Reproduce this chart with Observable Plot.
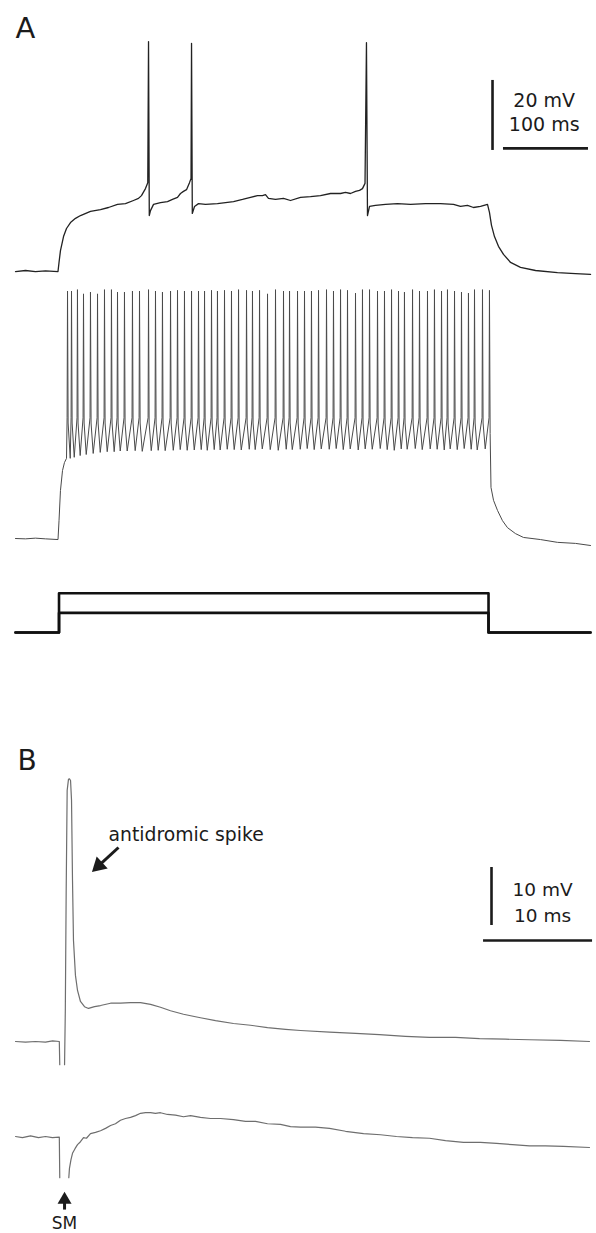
<!DOCTYPE html>
<html><head><meta charset="utf-8">
<script src="https://cdn.jsdelivr.net/npm/d3@7"></script>
<script src="https://cdn.jsdelivr.net/npm/@observablehq/plot@0.6"></script>
<style>
html,body{margin:0;padding:0;background:#fff;}
#fig{width:596px;}
#fig svg{display:block;}
</style></head><body><div id="fig"></div>
<script>
// ================= DATA =================
// Panel A, trace 1: weak depolarising step, [time ms, membrane potential mV]
const a1Trace = [[0,-70.3],[11.8,-70.0],[23.5,-70.3],[35.3,-70.1],[50.0,-70.3],[51.2,-67.7],[52.9,-64.3],[56.5,-60.3],[60.0,-58.0],[64.7,-56.3],[70.6,-55.1],[76.5,-54.3],[88.2,-53.1],[100.0,-52.6],[109.4,-52.0],[120.0,-51.1],[129.4,-50.9],[138.8,-50.0],[144.7,-49.4],[148.2,-48.6],[152.9,-46.6],[155.6,-44.9],[156.5,-4.6],[157.4,-54.3],[158.8,-52.9],[162.4,-51.1],[170.6,-50.6],[178.8,-50.3],[184.7,-49.7],[190.6,-49.1],[194.1,-48.0],[197.6,-47.4],[201.2,-46.9],[204.7,-44.9],[206.5,-43.7],[207.1,-5.1],[208.0,-53.7],[210.6,-51.7],[215.3,-50.9],[223.5,-51.1],[237.6,-50.9],[247.1,-50.6],[256.5,-50.3],[267.1,-49.7],[276.5,-49.1],[284.7,-48.6],[290.6,-48.6],[294.1,-48.3],[297.6,-49.4],[305.9,-49.7],[315.3,-49.4],[323.5,-50.0],[335.3,-49.1],[347.1,-48.9],[358.8,-48.6],[370.6,-48.0],[382.4,-48.0],[388.2,-47.7],[394.1,-48.0],[400.0,-47.4],[404.7,-47.1],[408.2,-46.6],[411.2,-45.1],[412.9,-4.9],[414.1,-54.3],[416.5,-51.7],[423.5,-51.4],[435.3,-51.1],[449.4,-50.9],[464.7,-51.1],[482.4,-50.9],[500.0,-50.9],[515.3,-51.1],[523.5,-51.7],[531.8,-51.4],[538.8,-52.0],[547.1,-51.7],[555.3,-51.1],[557.6,-53.4],[560.0,-57.1],[563.5,-60.3],[568.2,-63.1],[574.1,-65.4],[582.4,-67.7],[594.1,-69.1],[611.8,-70.0],[637.6,-70.6],[658.8,-70.9],[676.5,-71.1]];

// Panel A, trace 2: strong step, repetitive firing
const a2Onset = [[0,-70.0],[11.8,-70.1],[23.5,-69.9],[35.3,-70.1],[50.0,-70.3],[51.2,-64.9],[52.9,-56.3],[55.3,-50.6],[57.6,-48.3],[60.0,-47.1]];
const a2SpikeTimes = [61.2,65.9,72.9,80.0,88.2,96.5,104.7,112.9,120.0,128.2,137.6,145.9,156.5,164.7,172.9,182.4,190.6,198.8,207.1,215.3,222.4,230.6,237.6,245.9,254.1,262.4,271.8,278.8,287.1,296.5,305.9,315.3,322.4,331.8,340.0,348.2,356.5,365.9,374.1,382.4,390.6,400.0,408.2,416.5,425.9,434.1,442.4,450.6,457.6,467.1,475.3,484.7,492.9,501.2,508.2,516.5,524.7,532.9,540.0,549.4,557.6];
const a2SpikePeaks = [0.7,0.7,1.1,-0.1,0.4,-0.1,1.1,1.1,0.4,0.4,0.7,0.7,1.1,0.7,0.4,0.7,0.9,0.7,0.7,0.7,0.7,0.9,0.7,0.9,0.7,1.1,0.9,0.7,0.9,-0.1,1.1,0.7,0.7,0.7,0.7,0.7,0.9,1.1,0.7,1.1,0.9,0.1,1.1,1.1,0.7,0.7,1.1,0.7,0.4,1.1,0.7,0.7,1.1,0.7,1.1,0.7,0.4,0.1,1.1,1.1,0.9];
const a2SpikeTroughs = [-47.1,-46.8,-46.3,-46.0,-45.7,-45.4,-45.2,-45.2,-45.0,-45.0,-44.9,-45.1,-44.9,-44.8,-44.9,-44.8,-44.6,-44.8,-44.7,-44.6,-44.8,-44.6,-44.7,-44.5,-44.6,-44.7,-44.5,-44.6,-44.4,-44.6,-44.8,-44.5,-44.6,-44.5,-44.3,-44.6,-44.4,-44.5,-44.3,-44.6,-44.4,-44.7,-44.4,-44.5,-44.3,-44.6,-44.8,-44.4,-44.5,-44.3,-44.6,-44.4,-44.5,-44.7,-44.4,-44.6,-44.3,-44.5,-44.7,-44.4,-44.5];
const a2SpikeThreshold = -35.5;
const a2Offset = [[558.4,-40.0],[559.4,-55.4],[562.4,-59.1],[567.1,-62.0],[572.9,-64.9],[578.8,-66.9],[588.2,-68.6],[597.6,-69.7],[617.6,-70.3],[637.6,-71.1],[658.8,-71.4],[676.5,-72.0]];

// Panel A, trace 3: injected current steps (nA)
const stepTimes = [0, 51.2, 556.5, 676.5];   // start, on, off, end (ms)
const stepAmplitudes = [0.2, 0.4];           // nA

// Panel B, trace 1: antidromic spike, [time ms, mV]  (null = off-scale gap)
const b1Trace = [[0,-70.0],[0.92,-70.1],[1.83,-70.0],[2.75,-70.1],[3.4,-69.9],[4.02,-70.0],[4.06,-74.0],[4.3,null],[4.50,-74.0],[4.57,-64.7],[4.65,-44.0],[4.74,-26.7],[4.86,-24.8],[4.95,-24.7],[5.05,-25.0],[5.14,-28.4],[5.23,-42.2],[5.32,-52.6],[5.50,-58.6],[5.69,-61.2],[5.96,-63.1],[6.33,-64.0],[6.70,-64.3],[7.25,-64.0],[7.80,-63.8],[8.72,-63.4],[9.63,-63.4],[10.55,-63.3],[11.47,-63.3],[12.39,-63.6],[13.30,-64.1],[14.22,-64.7],[15.41,-65.3],[16.97,-65.9],[18.35,-66.4],[20.0,-66.9],[21.56,-67.2],[23.12,-67.6],[24.77,-67.9],[26.15,-68.1],[28.81,-68.4],[31.19,-68.6],[33.39,-68.8],[35.78,-69.1],[37.98,-69.3],[40.37,-69.3],[42.57,-69.5],[44.95,-69.6],[47.16,-69.7],[50.0,-69.8],[52.66,-70.0]];

// Panel B, trace 2: response without antidromic spike
const b2Trace = [[0,-70.0],[0.64,-70.2],[1.38,-69.9],[2.11,-70.2],[2.75,-70.0],[3.39,-70.2],[4.02,-70.1],[4.06,-77.1],[4.5,null],[4.89,-77.1],[4.95,-75.5],[5.09,-74.0],[5.23,-72.9],[5.46,-72.1],[5.69,-71.4],[5.96,-70.9],[6.24,-70.2],[6.51,-70.3],[6.88,-69.5],[7.34,-69.3],[7.80,-69.0],[8.26,-68.6],[8.72,-68.1],[9.17,-67.8],[9.63,-67.2],[10.09,-66.9],[10.55,-66.7],[11.01,-66.4],[11.47,-66.0],[11.93,-65.9],[12.39,-65.9],[12.84,-66.0],[13.30,-65.9],[13.94,-66.2],[14.68,-66.3],[15.41,-66.6],[16.06,-66.4],[16.97,-66.7],[17.89,-66.9],[18.81,-66.9],[20.0,-67.1],[21.10,-67.4],[22.02,-67.4],[23.12,-67.8],[24.31,-67.9],[25.23,-68.3],[26.15,-68.4],[27.52,-68.4],[28.81,-68.6],[30.28,-69.1],[31.93,-69.5],[33.49,-69.7],[34.95,-70.0],[36.42,-70.2],[37.98,-70.3],[39.45,-70.7],[41.10,-71.0],[42.66,-71.0],[44.13,-71.2],[45.60,-71.4],[47.16,-71.6],[48.62,-71.6],[50.28,-71.7],[52.66,-71.9]];

// Scale bars
const scaleA = {ms: 100, mV: 20};
const scaleB = {ms: 10, mV: 10};
const stimTimeB = 4.5; // ms, stimulus marker (SM)

// ================= LAYOUT =================
const W = 596, FONT = "DejaVu Sans", INK = "#1b1b1b";
const fig = document.getElementById("fig");

function panel(height, xDomain, yDomain, marks) {
  const svg = Plot.plot({
    width: W, height,
    marginLeft: 15, marginRight: 3, marginTop: 0, marginBottom: 0,
    x: {domain: xDomain, axis: null},
    y: {domain: yDomain, axis: null},
    style: {fontFamily: FONT, background: "#fff", color: INK},
    marks
  });
  fig.appendChild(svg);
}
const X = d => d[0], Y = d => d[1];

// ---- Panel A (0.85 px per ms, 3.5 px per mV) ----
const xA = [0, 680];
// trace 1
panel(280, xA, [-70 - 10/3.5, -70 + 270/3.5], [
  Plot.line(a1Trace, {x: X, y: Y, stroke: "#222", strokeWidth: 1.3}),
  Plot.text(["A"], {frameAnchor: "top-left", dx: 0, dy: 17, lineAnchor: "top", textAnchor: "start", fontSize: 29, fill: INK}),
  Plot.ruleX([561.2], {y1: -35.7, y2: -35.7 + scaleA.mV, stroke: INK, strokeWidth: 2.6}),
  Plot.ruleY([-35.1], {x1: 574.1, x2: 574.1 + scaleA.ms, stroke: INK, strokeWidth: 2.6}),
  Plot.text([`${scaleA.mV} mV`], {x: 622, y: -23.4, lineAnchor: "bottom", textAnchor: "middle", fontSize: 19, fill: INK}),
  Plot.text([`${scaleA.ms} ms`], {x: 622, y: -30, lineAnchor: "bottom", textAnchor: "middle", fontSize: 19, fill: INK})
]);

// trace 2 (built from read spike times, peaks and troughs)
const a2Trace = a2Onset.slice();
a2SpikeTimes.forEach((ts, i) => {
  a2Trace.push([ts - 0.5, a2SpikeThreshold]);
  a2Trace.push([ts, a2SpikePeaks[i]]);
  if (i < a2SpikeTimes.length - 1) {
    a2Trace.push([ts + 0.7, a2SpikeThreshold - 1.5]);
    a2Trace.push([ts + 3.2, a2SpikeTroughs[i]]);
  }
});
a2Offset.forEach(p => a2Trace.push(p));
panel(280, xA, [-70 - 22/3.5, -70 + 258/3.5], [
  Plot.line(a2Trace, {x: X, y: Y, stroke: "#4a4a4a", strokeWidth: 1})
]);

// trace 3: current
const pxPerNA = 98;
const currentLines = stepAmplitudes.flatMap((amp, k) => [
  [stepTimes[0], 0], [stepTimes[1], 0], [stepTimes[1], amp], [stepTimes[2], amp], [stepTimes[2], 0], [stepTimes[3], 0]
].map(([t, c]) => ({t, c, k})));
panel(130, xA, [-58/pxPerNA, 72/pxPerNA], [
  Plot.line(currentLines, {x: "t", y: "c", z: "k", stroke: "#111", strokeWidth: 2.6})
]);

// ---- Panel B (10.9 px per ms, 5.8 px per mV) ----
const xB = [0, 578/10.9];
panel(400, xB, [-70 - 49/5.8, -70 + 351/5.8], [
  Plot.line(b1Trace, {x: X, y: Y, stroke: "#6e6e6e", strokeWidth: 1.2}),
  Plot.text(["B"], {frameAnchor: "top-left", dx: 2, dy: 60, lineAnchor: "top", textAnchor: "start", fontSize: 28, fill: INK}),
  Plot.text(["antidromic spike"], {x: 8.53, y: -35.5, lineAnchor: "bottom", textAnchor: "start", fontSize: 18.8, fill: INK}),
  Plot.link([0], {x1: 9.45, y1: -36.55, x2: 7.64, y2: -39.69, stroke: INK, strokeWidth: 3}),
  Plot.dot([0], {x: 7.64, y: -39.69, symbol: "triangle", r: 6, rotate: 227, fill: INK, stroke: "none"}),
  Plot.ruleX([43.67], {y1: -50, y2: -50 + scaleB.mV, stroke: INK, strokeWidth: 2.6}),
  Plot.ruleY([-52.59], {x1: 42.94, x2: 42.94 + scaleB.ms, stroke: INK, strokeWidth: 2.6}),
  Plot.text([`${scaleB.mV} mV`], {x: 48.35, y: -44.83, lineAnchor: "bottom", textAnchor: "middle", fontSize: 18.5, fill: INK}),
  Plot.text([`${scaleB.ms} ms`], {x: 48.35, y: -49.48, lineAnchor: "bottom", textAnchor: "middle", fontSize: 18.5, fill: INK})
]);

panel(143, xB, [-70 - 97/5.8, -70 + 46/5.8], [
  Plot.line(b2Trace, {x: X, y: Y, stroke: "#6e6e6e", strokeWidth: 1.2}),
  Plot.link([0], {x1: stimTimeB, y1: -82.6, x2: stimTimeB, y2: -80.9, stroke: INK, strokeWidth: 3}),
  Plot.dot([0], {x: stimTimeB, y: -80.9, symbol: "triangle", r: 5.2, fill: INK, stroke: "none"}),
  Plot.text(["SM"], {x: stimTimeB, y: -85.9, lineAnchor: "bottom", textAnchor: "middle", fontSize: 17, fill: INK})
]);
</script>
</body></html>
